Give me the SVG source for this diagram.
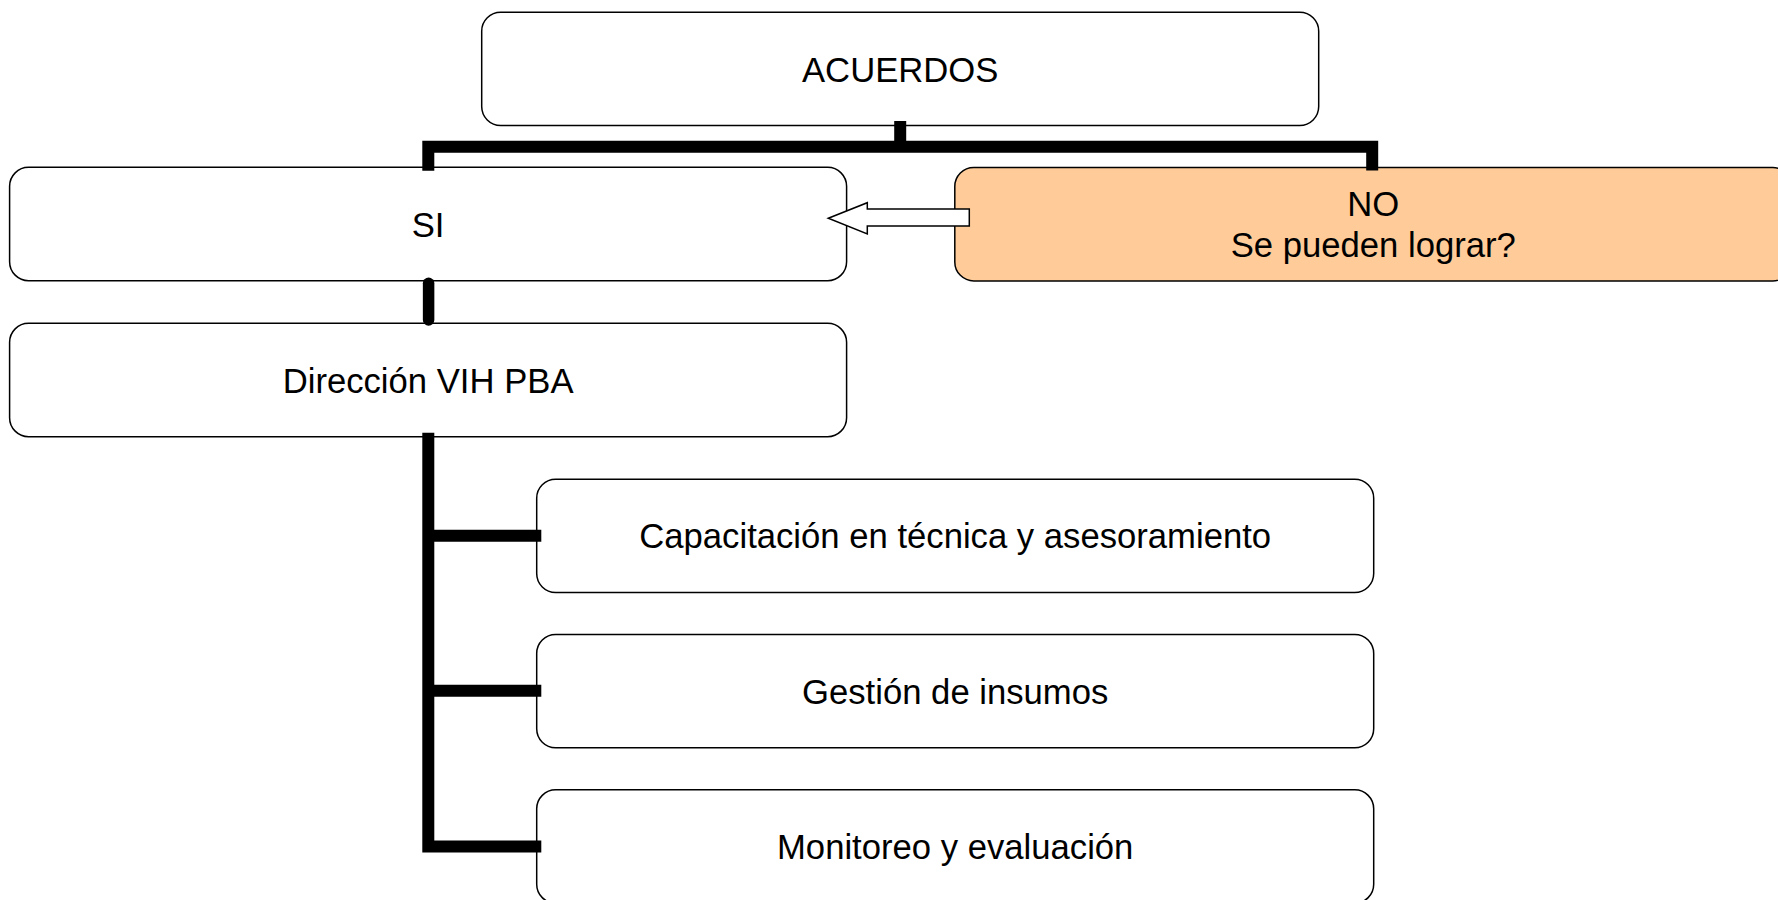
<svg xmlns="http://www.w3.org/2000/svg" width="1778" height="900" viewBox="0 0 1778 900">
<style>
.box{fill:#ffffff;stroke:#000000;stroke-width:1.5}
.orange{fill:#ffcc99}
.lbl{font-family:"Liberation Sans",Arial,sans-serif;font-size:34.67px;fill:#000000;text-anchor:middle}
.conn{fill:none;stroke:#000000;stroke-width:12;stroke-linejoin:miter;stroke-linecap:butt}
.arrow{fill:#ffffff;stroke:#000000;stroke-width:1.5;stroke-linejoin:miter}
</style>
<rect width="1778" height="900" fill="#ffffff"/>
<g id="nodes">
  <g id="acuerdos">
    <rect class="box" x="481.7" y="12.2" width="837" height="113.4" rx="19" ry="19"/>
    <text class="lbl" x="900.2" y="81.5">ACUERDOS</text>
  </g>
  <g id="si">
    <rect class="box" x="9.6" y="167.3" width="837" height="113.4" rx="19" ry="19"/>
    <text class="lbl" x="428.1" y="236.6">SI</text>
  </g>
  <g id="no">
    <rect class="box orange" x="954.8" y="167.5" width="837" height="113.4" rx="19" ry="19"/>
    <text class="lbl" x="1373.3" y="215.6">NO</text>
    <text class="lbl" x="1373.3" y="257.2">Se pueden lograr?</text>
  </g>
  <g id="direccion">
    <rect class="box" x="9.6" y="323.3" width="837" height="113.4" rx="19" ry="19"/>
    <text class="lbl" x="428.1" y="393">Dirección VIH PBA</text>
  </g>
  <g id="capacitacion">
    <rect class="box" x="536.7" y="479.2" width="837" height="113.4" rx="19" ry="19"/>
    <text class="lbl" x="955.2" y="548.3">Capacitación en técnica y asesoramiento</text>
  </g>
  <g id="gestion">
    <rect class="box" x="536.7" y="634.4" width="837" height="113.4" rx="19" ry="19"/>
    <text class="lbl" x="955.2" y="703.5">Gestión de insumos</text>
  </g>
  <g id="monitoreo">
    <rect class="box" x="536.7" y="789.8" width="837" height="113.4" rx="19" ry="19"/>
    <text class="lbl" x="955.2" y="858.9">Monitoreo y evaluación</text>
  </g>
</g>
<g id="connectors">
  <path class="conn" d="M900.2 121 V146.7"/>
  <path class="conn" d="M428.3 170.7 V146.7 H1372.2 V170.5"/>
  <path class="conn" d="M428.6 283.3 V320" style="stroke-width:11.5;stroke-linecap:round"/>
  <path class="conn" d="M428.3 432.7 V846.5 H541.3"/>
  <path class="conn" d="M428.3 535.8 H541.3"/>
  <path class="conn" d="M428.3 690.8 H541.3"/>
  <polygon class="arrow" points="828.3,218.3 867.3,202.7 867.3,209 969.3,209 969.3,226 867.3,226 867.3,234"/>
</g>
</svg>
